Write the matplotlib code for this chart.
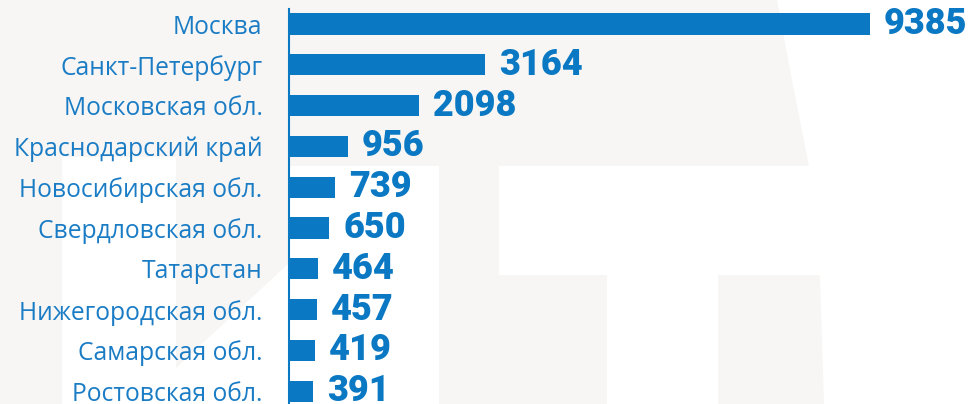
import matplotlib.pyplot as plt
from matplotlib.patches import Polygon

# data
regions = ['Москва', 'Санкт-Петербург', 'Московская обл.', 'Краснодарский край',
           'Новосибирская обл.', 'Свердловская обл.', 'Татарстан',
           'Нижегородская обл.', 'Самарская обл.', 'Ростовская обл.']
counts = [9385, 3164, 2098, 956, 739, 650, 464, 457, 419, 391]

blue = '#0A78C2'
text_blue = '#1A7CC5'
W, H = 975, 404

fig = plt.figure(figsize=(W / 100, H / 100), dpi=100, facecolor='#F7F6F4')


# faint watermark in the background (pixel coords, y from top)
def px_poly(pts):
    return Polygon([(x / W, 1 - y / H) for x, y in pts], closed=True,
                   transform=fig.transFigure, facecolor='white', edgecolor='none', zorder=-5)


fig.patches.append(px_poly([(777, 0), (975, 0), (975, 404), (824, 404), (820, 275),
                            (718, 275), (718, 404), (607, 404), (607, 275), (499, 275),
                            (499, 166), (809, 166), (792, 80)]))
fig.patches.append(px_poly([(62, 157), (176, 157), (176, 368), (289, 263), (289, 166),
                            (439, 166), (439, 404), (62, 404)]))

ax = fig.add_axes([289 / W, 0, (W - 289) / W, (H - 9) / H])
ax.patch.set_alpha(0)

y = list(range(len(regions)))
ax.barh(y, counts, height=0.52, color=blue, zorder=3)

ax.set_xlim(0, 686 * 9385 / 581)
ax.set_ylim((404 - 24) / 40.8, (9 - 24) / 40.8)

for i, v in enumerate(counts):
    ax.annotate(str(v), (v, i), xytext=(10, 0), textcoords='offset points',
                va='center', ha='left', fontsize=26, fontweight='black',
                family='Roboto', color=blue, annotation_clip=False)

ax.set_yticks(y)
ax.set_yticklabels(regions, family='Open Sans', fontsize=17.7, color=text_blue)
ax.tick_params(axis='y', length=0, pad=19)
ax.set_xticks([])

for s in ['top', 'right', 'bottom']:
    ax.spines[s].set_visible(False)
ax.spines['left'].set_color(blue)
ax.spines['left'].set_linewidth(1.5)

fig.savefig('out.png', dpi=100, facecolor=fig.get_facecolor())
